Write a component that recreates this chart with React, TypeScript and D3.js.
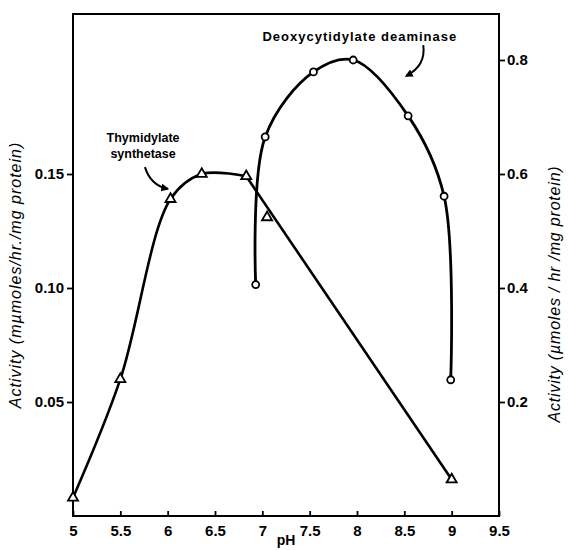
import * as d3 from "d3";
import { useEffect, useRef } from "react";

// Thymidylate synthetase (triangles, left axis)
const tsPH = [5.0, 5.5, 6.03, 6.36, 6.83, 7.05, 9.0];
const tsAct = [0.008, 0.06, 0.139, 0.15, 0.149, 0.131, 0.016];
// Deoxycytidylate deaminase (circles, right axis)
const dcPH = [6.93, 7.03, 7.54, 7.96, 8.54, 8.92, 8.99];
const dcAct = [0.406, 0.665, 0.779, 0.8, 0.702, 0.561, 0.239];

const xTicks = [5, 5.5, 6, 6.5, 7, 7.5, 8, 8.5, 9, 9.5];
const leftTicks = [0.05, 0.1, 0.15];
const rightTicks = [0.2, 0.4, 0.6, 0.8];

export default function App() {
  const ref = useRef<SVGSVGElement>(null);

  useEffect(() => {
    const svg = d3.select(ref.current);
    svg.selectAll("*").remove();

    const width = 568;
    const height = 550;
    const margin = { top: 14, right: 70, bottom: 34, left: 73 };
    const font = "'Liberation Sans', Arial, sans-serif";

    svg.attr("width", width).attr("height", height);

    const x = d3.scaleLinear().domain([5, 9.5]).range([margin.left, width - margin.right + 1]);
    const yL = d3.scaleLinear().domain([0, 0.2]).range([height - margin.bottom, height - margin.bottom - 456]);
    const yR = d3.scaleLinear().domain([0, 0.8]).range(yL.range());

    const bottom = height - margin.bottom;

    // frame
    svg.append("rect")
      .attr("x", x(5)).attr("y", margin.top)
      .attr("width", x(9.5) - x(5)).attr("height", bottom - margin.top)
      .attr("fill", "none").attr("stroke", "#000").attr("stroke-width", 2);

    const styleAxis = (g: any) => {
      g.select(".domain").remove();
      g.selectAll("line").attr("stroke", "#000").attr("stroke-width", 1.8);
      g.selectAll("text")
        .attr("fill", "#000")
        .style("font-family", font)
        .style("font-size", "15px")
        .style("font-weight", "bold");
    };

    svg.append("g")
      .attr("transform", `translate(0,${bottom})`)
      .call(d3.axisBottom(x).tickValues(xTicks).tickFormat((d: any) => String(d)).tickSize(-5).tickPadding(9))
      .call(styleAxis);

    svg.append("g")
      .attr("transform", `translate(${x(5)},0)`)
      .call(d3.axisLeft(yL).tickValues(leftTicks).tickFormat(d3.format(".2f")).tickSize(6).tickPadding(3))
      .call(styleAxis);

    svg.append("g")
      .attr("transform", `translate(${x(9.5)},0)`)
      .call(d3.axisRight(yR).tickValues(rightTicks).tickFormat(d3.format(".1f")).tickSize(6).tickPadding(2))
      .call(styleAxis);

    // axis titles
    svg.append("text")
      .attr("transform", `translate(21,275) rotate(-90)`)
      .attr("text-anchor", "middle")
      .style("font-family", font).style("font-size", "16px").style("font-style", "italic")
      .style("letter-spacing", "1px")
      .text("Activity (mµmoles/hr./mg protein)");

    svg.append("text")
      .attr("transform", `translate(560,294) rotate(-90)`)
      .attr("text-anchor", "middle")
      .style("font-family", font).style("font-size", "16px").style("font-style", "italic")
      .style("letter-spacing", "0.8px")
      .text("Activity  (µmoles / hr /mg protein)");

    svg.append("text")
      .attr("x", x(7.25)).attr("y", 545)
      .attr("text-anchor", "middle")
      .style("font-family", font).style("font-size", "14px").style("font-weight", "bold")
      .text("pH");

    const ts = tsPH.map((p, i) => ({ p, v: tsAct[i] }));
    const dc = dcPH.map((p, i) => ({ p, v: dcAct[i] }));

    // thymidylate synthetase curve: smooth part, then straight line to pH 9
    const tsSmooth = d3.line<any>().x(d => x(d.p)).y(d => yL(d.v)).curve(d3.curveCatmullRom.alpha(0.5));
    svg.append("path")
      .attr("d", tsSmooth(ts.slice(0, 5)))
      .attr("fill", "none").attr("stroke", "#000").attr("stroke-width", 2.6);
    const tsStraight = d3.line<any>().x(d => x(d.p)).y(d => yL(d.v));
    svg.append("path")
      .attr("d", tsStraight([ts[4], ts[6]]))
      .attr("fill", "none").attr("stroke", "#000").attr("stroke-width", 2.6);

    // deaminase curve
    const dcLine = d3.line<any>().x(d => x(d.p)).y(d => yR(d.v)).curve(d3.curveCatmullRom.alpha(0.5));
    svg.append("path")
      .attr("d", dcLine(dc))
      .attr("fill", "none").attr("stroke", "#000").attr("stroke-width", 2.8);

    // markers
    const tri = d3.symbol().type(d3.symbolTriangle).size(44);
    svg.append("g")
      .selectAll("path")
      .data(ts)
      .join("path")
      .attr("d", tri)
      .attr("transform", d => `translate(${x(d.p)},${yL(d.v)})`)
      .attr("fill", "#fff").attr("stroke", "#000").attr("stroke-width", 1.8);

    svg.append("g")
      .selectAll("circle")
      .data(dc)
      .join("circle")
      .attr("cx", d => x(d.p)).attr("cy", d => yR(d.v)).attr("r", 3.5)
      .attr("fill", "#fff").attr("stroke", "#000").attr("stroke-width", 1.8);

    // arrowhead
    svg.append("defs").append("marker")
      .attr("id", "head")
      .attr("viewBox", "0 0 10 10").attr("refX", 8).attr("refY", 5)
      .attr("markerWidth", 4).attr("markerHeight", 4)
      .attr("orient", "auto")
      .append("path").attr("d", "M0,0L10,5L0,10z").attr("fill", "#000");

    // annotations
    const ann = svg.append("g").style("font-family", font).style("font-weight", "bold");
    ann.append("text").attr("x", x(5.74)).attr("y", yL(0.164)).attr("text-anchor", "middle")
      .style("font-size", "12.5px").text("Thymidylate");
    ann.append("text").attr("x", x(5.74)).attr("y", yL(0.157)).attr("text-anchor", "middle")
      .style("font-size", "12.5px").text("synthetase");
    ann.append("text").attr("x", x(8.03)).attr("y", yR(0.833)).attr("text-anchor", "middle")
      .style("font-size", "13px").style("letter-spacing", "1px").text("Deoxycytidylate deaminase");

    svg.append("path")
      .attr("d", `M${x(5.76)},${yL(0.153)} Q${x(5.82)},${yL(0.145)} ${x(6.0)},${yL(0.1435)}`)
      .attr("fill", "none").attr("stroke", "#000").attr("stroke-width", 2)
      .attr("marker-end", "url(#head)");

    svg.append("path")
      .attr("d", `M${x(8.7)},${yR(0.826)} Q${x(8.73)},${yR(0.79)} ${x(8.52)},${yR(0.772)}`)
      .attr("fill", "none").attr("stroke", "#000").attr("stroke-width", 2)
      .attr("marker-end", "url(#head)");
  }, []);

  return (
    <svg ref={ref} style={{ position: "absolute", left: 0, top: 0, background: "#fff" }}></svg>
  );
}
